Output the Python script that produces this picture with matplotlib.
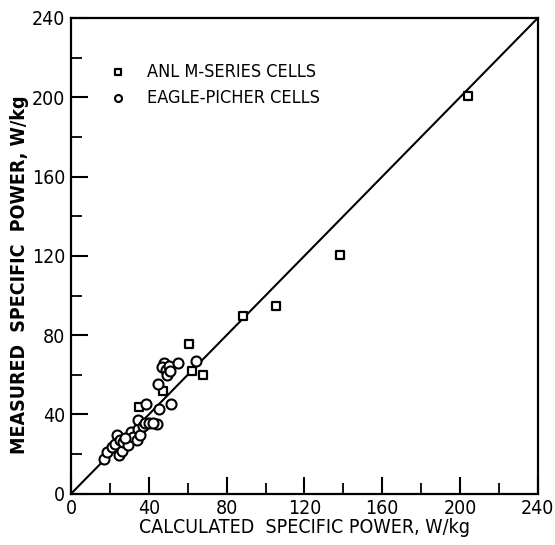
import matplotlib
matplotlib.use("Agg")
import matplotlib.pyplot as plt
from matplotlib.ticker import MultipleLocator

plt.rcParams['font.family'] = ['DejaVu Sans']
plt.rcParams['font.stretch'] = 'condensed'

# ANL M-series cells (squares)
anl_x = [35.1, 47.1, 60.8, 62.0, 67.7, 88.2, 105.2, 138.2, 203.9]
anl_y = [43.7, 51.8, 75.7, 61.7, 59.7, 89.5, 94.5, 120.6, 200.8]

# Eagle-Picher cells (circles)
ep_x = [17.1, 18.3, 20.9, 22.6, 23.8, 24.8, 26.1, 25.2, 26.9, 29.4, 30.8, 31.7,
        33.8, 34.3, 34.6, 35.5, 36.8, 38.0, 38.5, 40.2, 44.3, 45.2, 44.9, 47.8,
        46.6, 48.8, 49.2, 50.5, 50.9, 51.4, 55.1, 64.2, 28.0, 42.3]
ep_y = [17.7, 21.3, 23.4, 25.2, 29.4, 19.7, 21.7, 27.2, 25.9, 24.7, 31.4, 28.6,
        27.2, 32.6, 37.3, 29.8, 34.3, 35.7, 45.4, 35.7, 35.2, 42.7, 55.3, 65.9,
        63.7, 62.6, 60.0, 64.2, 61.7, 45.3, 65.9, 66.8, 28.0, 35.7]

line_x = [0, 240]
line_y = [0, 240]

xticks = [0, 40, 80, 120, 160, 200, 240]
yticks = [0, 40, 80, 120, 160, 200, 240]

fig = plt.figure(figsize=(5.55, 5.45), dpi=100)
ax = fig.add_axes([0.128, 0.094, 0.841, 0.873])

ax.plot(line_x, line_y, color='black', lw=1.5, zorder=2)
ax.scatter(anl_x, anl_y, marker='s', s=34, facecolors='white', edgecolors='black',
           linewidths=1.6, zorder=3, label='ANL M-SERIES CELLS')
ax.scatter(ep_x, ep_y, marker='o', s=52, facecolors='white', edgecolors='black',
           linewidths=1.5, zorder=3, label='EAGLE-PICHER CELLS')

ax.set_xlim(0, 240)
ax.set_ylim(0, 240)
ax.set_xticks(xticks)
ax.set_yticks(yticks)
ax.xaxis.set_minor_locator(MultipleLocator(20))
ax.yaxis.set_minor_locator(MultipleLocator(20))
ax.tick_params(which='major', direction='in', length=12, width=1.5, labelsize=14, pad=4)
ax.tick_params(which='minor', direction='in', length=8, width=1.3)
ax.tick_params(top=False, right=False, which='both')
for s in ax.spines.values():
    s.set_linewidth(1.6)

ax.set_xlabel('CALCULATED  SPECIFIC POWER, W/kg', fontsize=14, labelpad=0)
ax.set_ylabel('MEASURED  SPECIFIC  POWER, W/kg', fontsize=14, fontweight='bold')
ax.yaxis.set_label_coords(-0.09, 0.46)

leg = ax.legend(loc='upper left', bbox_to_anchor=(0.047, 0.94), frameon=False,
                fontsize=13, handletextpad=1.1, markerscale=0.7, labelspacing=0.45,
                handlelength=1.0)

fig.savefig('out.png', dpi=100)
